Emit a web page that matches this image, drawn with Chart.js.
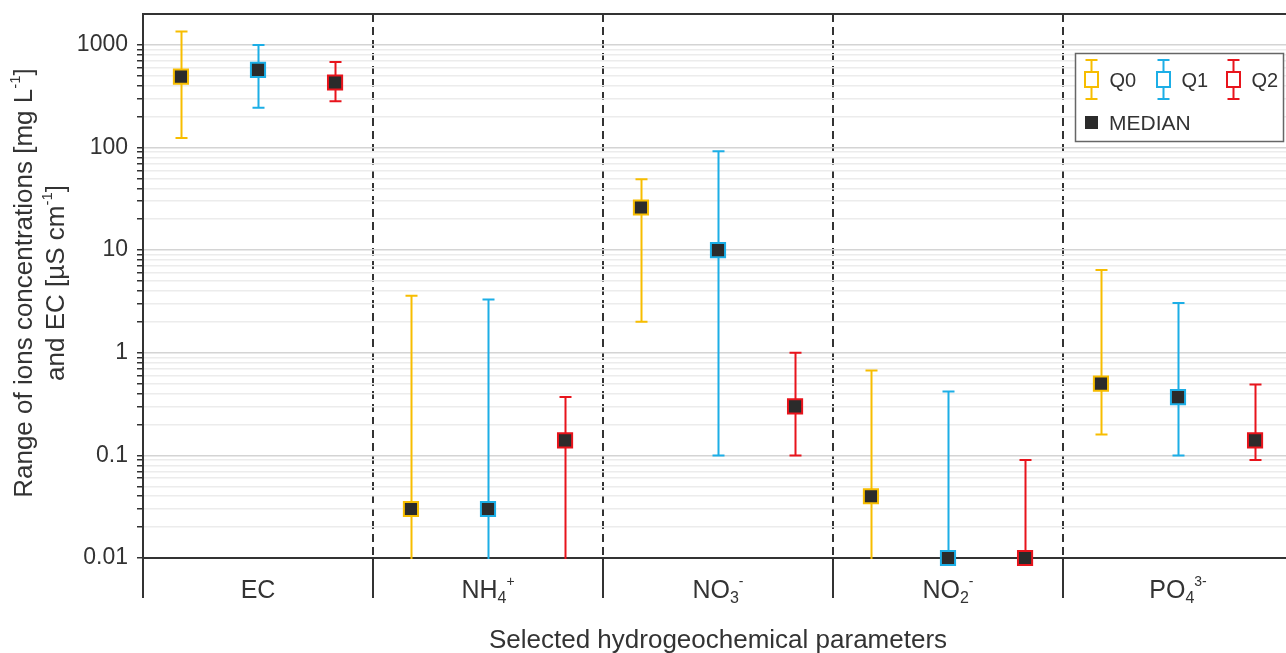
<!DOCTYPE html>
<html>
<head>
<meta charset="utf-8">
<script src="https://cdn.jsdelivr.net/npm/chart.js@4.4.1/dist/chart.umd.min.js"></script>
<style>
  body { margin: 0; background: #fff; }
  canvas { display: block; }
</style>
</head>
<body>
<canvas id="grafico" width="1286" height="653"></canvas>
<script>
// dados
const categories = ['EC', 'NH4+', 'NO3-', 'NO2-', 'PO4 3-'];
const seriesNames = ['Q0', 'Q1', 'Q2'];

const q0Median = [490, 0.03, 26, 0.04, 0.5];
const q0Min    = [124, 0.005, 2.0, 0.005, 0.16];
const q0Max    = [1350, 3.6, 49, 0.67, 6.4];

const q1Median = [570, 0.03, 10, 0.01, 0.37];
const q1Min    = [244, 0.005, 0.1, 0.005, 0.1];
const q1Max    = [1000, 3.3, 92, 0.42, 3.05];

const q2Median = [430, 0.14, 0.3, 0.01, 0.14];
const q2Min    = [282, 0.005, 0.1, 0.005, 0.09];
const q2Max    = [680, 0.37, 1.0, 0.09, 0.49];

const yTickLabels = [0.01, 0.1, 1, 10, 100, 1000];
const separators = [0, 1, 2, 3, 4];

// rotulos com subscrito / sobrescrito
const categoryParts = [
    [['EC', 'n']],
    [['NH', 'n'], ['4', 'sub'], ['+', 'sup']],
    [['NO', 'n'], ['3', 'sub'], ['-', 'sup']],
    [['NO', 'n'], ['2', 'sub'], ['-', 'sup']],
    [['PO', 'n'], ['4', 'sub'], ['3-', 'sup']]
];

const cores = ['#F7BD00', '#1CAEE6', '#E8141C'];
const offsets = [-0.335, 0, 0.335];
const FONTE = '"Liberation Sans", Arial, Helvetica, sans-serif';
const TEXTO = '#333333';

const medians = [q0Median, q1Median, q2Median];
const mins = [q0Min, q1Min, q2Min];
const maxs = [q0Max, q1Max, q2Max];

function isDecade(v) {
    return yTickLabels.some(t => Math.abs(v / t - 1) < 1e-6);
}

function drawRich(ctx, parts, x, y, size) {
    const specs = parts.map(p => {
        let fs = size, dy = 0;
        if (p[1] === 'sub') { fs = Math.round(size * 0.62); dy = 5; }
        if (p[1] === 'sup') { fs = Math.round(size * 0.58); dy = -12; }
        ctx.font = fs + 'px ' + FONTE;
        return { t: p[0], fs: fs, dy: dy, w: ctx.measureText(p[0]).width };
    });
    const total = specs.reduce((a, s) => a + s.w, 0);
    let cx = x - total / 2;
    ctx.textAlign = 'left';
    ctx.textBaseline = 'alphabetic';
    specs.forEach(s => {
        ctx.font = s.fs + 'px ' + FONTE;
        ctx.fillText(s.t, cx, y + s.dy);
        cx += s.w;
    });
}

const errorBars = {
    id: 'errorBars',
    beforeDatasetsDraw(chart) {
        const ctx = chart.ctx;
        const xs = chart.scales.x, ys = chart.scales.y;
        const area = chart.chartArea;
        ctx.save();
        ctx.beginPath();
        ctx.rect(area.left, area.top, area.right - area.left, area.bottom - area.top + 1);
        ctx.clip();
        for (let s = 0; s < 3; s++) {
            ctx.strokeStyle = cores[s];
            ctx.lineWidth = 2;
            for (let i = 0; i < categories.length; i++) {
                const x = Math.round(xs.getPixelForValue(i + 0.5 + offsets[s])) + 0.5;
                const yLo = ys.getPixelForValue(mins[s][i]);
                const yHi = ys.getPixelForValue(maxs[s][i]);
                ctx.beginPath();
                ctx.moveTo(x, yLo); ctx.lineTo(x, yHi);
                ctx.moveTo(x - 6, yHi); ctx.lineTo(x + 6, yHi);
                ctx.moveTo(x - 6, yLo); ctx.lineTo(x + 6, yLo);
                ctx.stroke();
            }
        }
        ctx.restore();
    },
    afterDraw(chart) {
        const ctx = chart.ctx;
        const xs = chart.scales.x;
        const area = chart.chartArea;
        ctx.save();
        // borda superior
        ctx.strokeStyle = '#333';
        ctx.lineWidth = 2;
        ctx.beginPath();
        ctx.moveTo(area.left - 1, area.top);
        ctx.lineTo(area.right, area.top);
        ctx.stroke();

        ctx.fillStyle = TEXTO;
        // rotulos das categorias
        categoryParts.forEach((parts, i) => {
            drawRich(ctx, parts, xs.getPixelForValue(i + 0.5), 598, 25);
        });
        // titulo eixo x
        ctx.font = '26px ' + FONTE;
        ctx.textAlign = 'center';
        ctx.fillText('Selected hydrogeochemical parameters', xs.getPixelForValue(2.5), 648);

        // titulo eixo y (duas linhas)
        ctx.save();
        ctx.translate(32, 283);
        ctx.rotate(-Math.PI / 2);
        drawRich(ctx, [['Range of ions concentrations [mg L', 'n'], ['-1', 'sup'], [']', 'n']], 0, 0, 26);
        ctx.restore();
        ctx.save();
        ctx.translate(64, 283);
        ctx.rotate(-Math.PI / 2);
        drawRich(ctx, [['and EC [\u00B5S cm', 'n'], ['-1', 'sup'], [']', 'n']], 0, 0, 26);
        ctx.restore();

        // legenda
        ctx.fillStyle = '#fff';
        ctx.fillRect(1075, 53, 208, 88);
        ctx.strokeStyle = '#666';
        ctx.lineWidth = 1.5;
        ctx.strokeRect(1075.5, 53.5, 208, 88);
        const lx = [1091.5, 1163.5, 1233.5];
        for (let s = 0; s < 3; s++) {
            const x = lx[s];
            ctx.strokeStyle = cores[s];
            ctx.lineWidth = 2;
            ctx.beginPath();
            ctx.moveTo(x - 6, 60); ctx.lineTo(x + 6, 60);
            ctx.moveTo(x, 60); ctx.lineTo(x, 72);
            ctx.moveTo(x, 87); ctx.lineTo(x, 99);
            ctx.moveTo(x - 6, 99); ctx.lineTo(x + 6, 99);
            ctx.stroke();
            ctx.strokeRect(x - 6.5, 72, 13, 15);
            ctx.fillStyle = TEXTO;
            ctx.font = '20px ' + FONTE;
            ctx.textAlign = 'left';
            ctx.fillText(seriesNames[s], x + 18, 87);
        }
        ctx.fillStyle = '#2b2b2b';
        ctx.fillRect(1085, 116, 13, 13);
        ctx.fillStyle = TEXTO;
        ctx.font = '21px ' + FONTE;
        ctx.fillText('MEDIAN', 1109, 130);
        ctx.restore();
    }
};

const ctx = document.getElementById('grafico').getContext('2d');

new Chart(ctx, {
    type: 'scatter',
    data: {
        datasets: seriesNames.map((nome, s) => ({
            label: nome,
            data: categories.map((c, i) => ({ x: i + 0.5 + offsets[s], y: medians[s][i] })),
            pointStyle: 'rect',
            pointRadius: 10,
            backgroundColor: '#2b2b2b',
            borderColor: cores[s],
            borderWidth: 2,
            clip: false
        }))
    },
    options: {
        responsive: false,
        animation: false,
        events: [],
        layout: { autoPadding: false, padding: { top: 14, right: 0, left: 0, bottom: 0 } },
        plugins: {
            legend: { display: false },
            tooltip: { enabled: false }
        },
        scales: {
            x: {
                type: 'linear',
                min: 0,
                max: 1143 / 230,
                afterBuildTicks: (scale) => {
                    scale.ticks = separators.map(v => ({ value: v }));
                },
                afterFit: (scale) => {
                    scale.height = 95;
                    scale.paddingLeft = 0;
                    scale.paddingRight = 0;
                },
                ticks: { callback: () => '', autoSkip: false },
                grid: {
                    color: '#333',
                    lineWidth: 2,
                    tickLength: 40,
                    tickColor: '#333',
                    tickWidth: 2
                },
                border: { color: '#333', width: 2, dash: [8, 5] }
            },
            y: {
                type: 'logarithmic',
                min: 0.01,
                max: 2000,
                afterBuildTicks: (scale) => {
                    const t = [];
                    yTickLabels.forEach(d => {
                        for (let m = 1; m <= 9; m++) {
                            const v = +(m * d).toPrecision(3);
                            if (v < 2000) t.push({ value: v });
                        }
                    });
                    scale.ticks = t;
                },
                afterFit: (scale) => {
                    scale.width = 143;
                    scale.paddingTop = 0;
                    scale.paddingBottom = 0;
                },
                ticks: {
                    autoSkip: false,
                    padding: 9,
                    color: TEXTO,
                    font: { family: FONTE, size: 23 },
                    callback: (v) => isDecade(v) ? String(v) : ''
                },
                grid: {
                    color: (c) => isDecade(c.tick.value) ? '#d4d4d4' : '#ececec',
                    lineWidth: 1.5,
                    tickLength: 6,
                    tickColor: '#333',
                    tickWidth: 1.5
                },
                border: { color: '#333', width: 2 }
            }
        }
    },
    plugins: [errorBars]
});
</script>
</body>
</html>
